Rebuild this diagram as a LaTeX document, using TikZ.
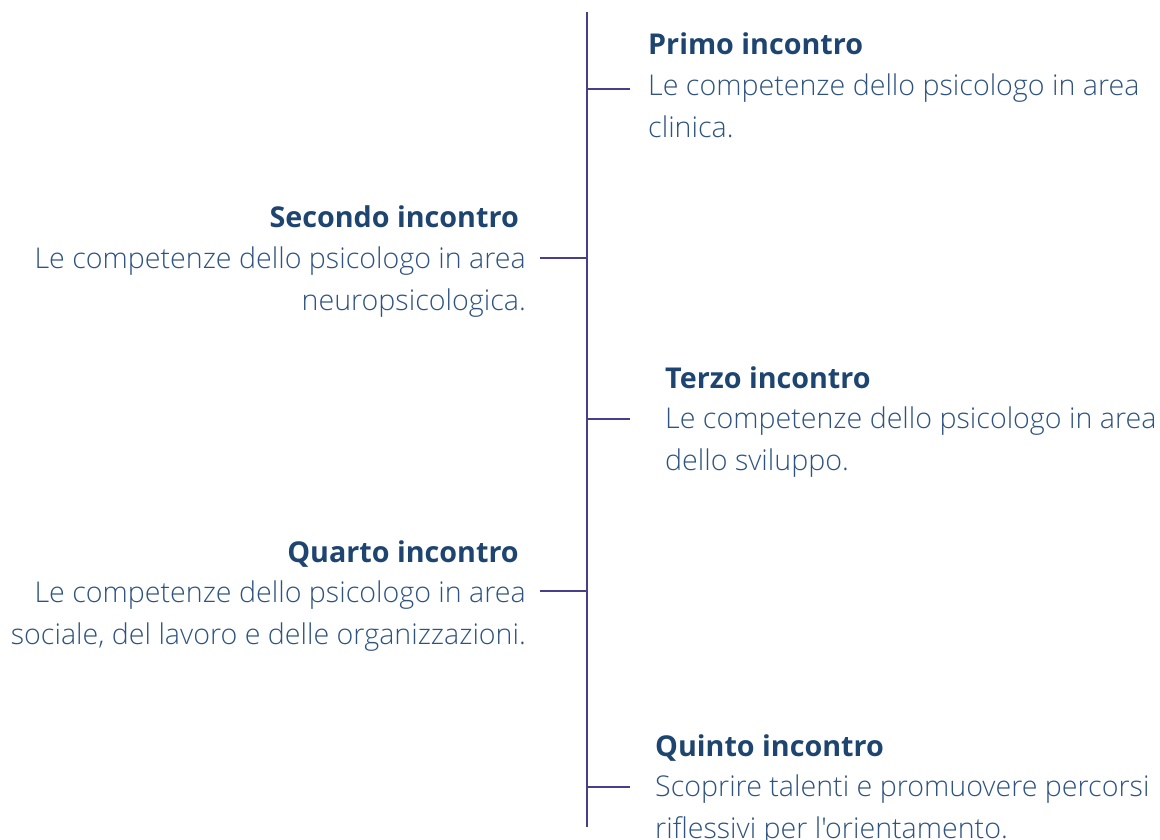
\documentclass[tikz,border=0pt]{standalone}
\usepackage{fontspec}
\setmainfont{Open Sans}
\newfontfamily\lightfont{Open Sans Light}
\definecolor{spinec}{HTML}{4A3D8C}
\definecolor{titlec}{HTML}{1E4570}
\definecolor{bodyc}{HTML}{2E5380}
\begin{document}
\begin{tikzpicture}[x=1pt,y=-1pt,
  spine/.style={draw=spinec,line width=2pt},
  tick/.style={draw=spinec,line width=2pt},
  ttl/.style={inner sep=0pt,text=titlec,font=\bfseries\fontsize{28.7}{40}\selectfont},
  bodyL/.style={inner sep=0pt,text=bodyc,align=left,font=\lightfont\fontsize{28.6}{41.5}\selectfont},
  bodyR/.style={inner sep=0pt,text=bodyc,align=right,font=\lightfont\fontsize{28.6}{41.5}\selectfont}]
\useasboundingbox (0,0) rectangle (1160,839);
\coordinate (top) at (587,12);
\coordinate (bot) at (587,827);
\draw[spine] (top) -- (bot);
% ticks
\coordinate (s1) at (587,89);  \coordinate (e1) at (630,89);
\coordinate (s2) at (587,258); \coordinate (e2) at (540,258);
\coordinate (s3) at (587,419); \coordinate (e3) at (630,419);
\coordinate (s4) at (587,591); \coordinate (e4) at (540,591);
\coordinate (s5) at (587,787); \coordinate (e5) at (630,787);
\draw[tick] (s1) -- (e1);
\draw[tick] (s2) -- (e2);
\draw[tick] (s3) -- (e3);
\draw[tick] (s4) -- (e4);
\draw[tick] (s5) -- (e5);
% texts (body nodes anchored at the baseline of their last line)
\node[ttl,anchor=base west] (t1) at (648,54) {Primo incontro};
\node[bodyL,anchor=base west] (b1) at (648,137) {Le competenze dello psicologo in area\\clinica.};
\node[ttl,anchor=base east] (t2) at (519,227) {Secondo incontro};
\node[bodyR,anchor=base east] (b2) at (526,310) {Le competenze dello psicologo in area\\neuropsicologica.};
\node[ttl,anchor=base west] (t3) at (665,388) {Terzo incontro};
\node[bodyL,anchor=base west] (b3) at (665,470) {Le competenze dello psicologo in area\\dello sviluppo.};
\node[ttl,anchor=base east] (t4) at (519,562) {Quarto incontro};
\node[bodyR,anchor=base east] (b4) at (526,644) {Le competenze dello psicologo in area\\sociale, del lavoro e delle organizzazioni.};
\node[ttl,anchor=base west] (t5) at (655,756) {Quinto incontro};
\node[bodyL,anchor=base west] (b5) at (655,838) {Scoprire talenti e promuovere percorsi\\riflessivi per l'orientamento.};
\end{tikzpicture}
\end{document}
